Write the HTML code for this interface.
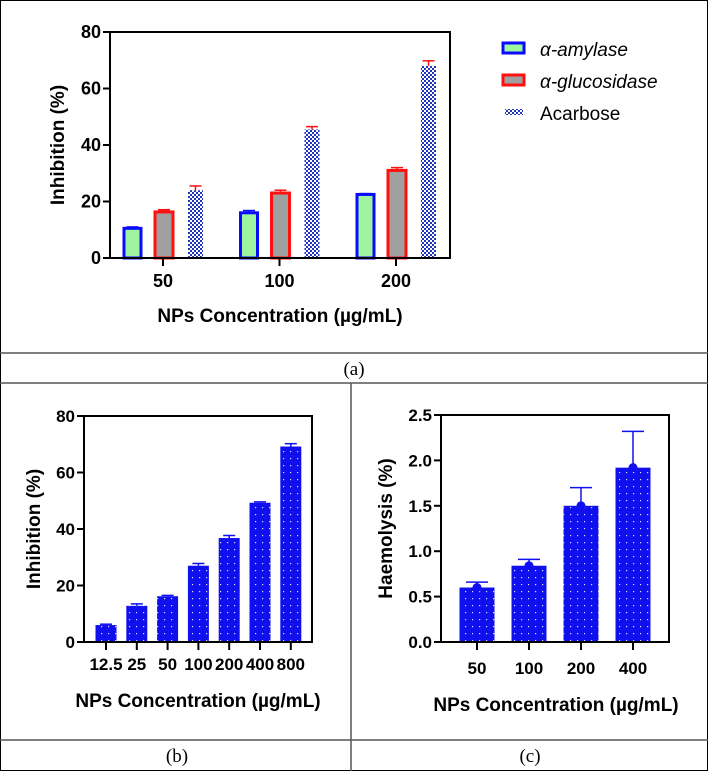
<!DOCTYPE html>
<html><head><meta charset="utf-8"><style>
html,body{margin:0;padding:0;background:#fff;}
svg{display:block;font-family:"Liberation Sans",Arial,sans-serif;}
.t{font-weight:bold;font-size:17px;fill:#000;}
.ta{font-weight:bold;font-size:18px;fill:#000;}
.ti{font-weight:bold;font-size:19px;fill:#000;}
.cap{font-family:"Liberation Serif",serif;font-size:19px;fill:#000;}
</style></head><body>
<svg id="fig" width="708" height="771" viewBox="0 0 708 771">
<defs>
<pattern id="chk" width="4" height="4" patternUnits="userSpaceOnUse"><rect width="4" height="4" fill="#fff"/><rect width="2" height="2" fill="#2233bb"/><rect x="2" y="2" width="2" height="2" fill="#2233bb"/></pattern>
<pattern id="dots" width="7" height="7" patternUnits="userSpaceOnUse"><rect width="7" height="7" fill="#1010ee"/><rect x="3" y="3" width="1.2" height="1.2" fill="#dde"/></pattern>
</defs>
<rect x="0.5" y="0.5" width="707" height="770" fill="none" stroke="#000"/>
<line x1="0" y1="353" x2="708" y2="353" stroke="#555" stroke-width="1.5"/>
<line x1="0" y1="383" x2="708" y2="383" stroke="#555" stroke-width="1.5"/>
<line x1="351" y1="383" x2="351" y2="771" stroke="#555" stroke-width="1.5"/>
<line x1="0" y1="740" x2="708" y2="740" stroke="#555" stroke-width="1.5"/>
<text class="cap" x="354" y="375" text-anchor="middle">(a)</text>
<text class="cap" x="177" y="762" text-anchor="middle">(b)</text>
<text class="cap" x="530" y="762" text-anchor="middle">(c)</text>
<g id="ga"></g><g id="gb"></g><g id="gc"></g>
</svg>
<script>
// Panel a data
const aCats = ["50","100","200"];
const amylase = [10.5, 16, 22.5];
const amylaseErr = [0.5, 0.8, 0.3];
const glucosidase = [16.3, 23, 31];
const glucosidaseErr = [0.8, 1, 1];
const acarbose = [24, 45.5, 68];
const acarboseErr = [1.5, 1, 1.8];
const aTicks = [0, 20, 40, 60, 80];
// Panel b data
const bCats = ["12.5","25","50","100","200","400","800"];
const bVals = [6, 12.8, 16.2, 27, 36.8, 49.3, 69.2];
const bErr = [0.3, 0.7, 0.3, 0.8, 0.9, 0.3, 1];
const bTicks = [0, 20, 40, 60, 80];
// Panel c data
const cCats = ["50","100","200","400"];
const cVals = [0.6, 0.84, 1.5, 1.92];
const cErr = [0.06, 0.07, 0.2, 0.4];
const cTicks = ["0.0","0.5","1.0","1.5","2.0","2.5"];

const NS = "http://www.w3.org/2000/svg";
function mk(parent, tag, attrs, text){
  const e = document.createElementNS(NS, tag);
  for (const k in attrs) e.setAttribute(k, attrs[k]);
  if (text !== undefined) e.textContent = text;
  parent.appendChild(e); return e;
}
function axes(g, x0, x1, y0, y1, ymax, ticks, tickFmt, title, titleX, cls){
  const ys = v => y0 - (v / ymax) * (y0 - y1);
  ticks.forEach(t => {
    const v = parseFloat(t);
    mk(g, "line", {x1:x0-7, x2:x0, y1:ys(v), y2:ys(v), stroke:"#000", "stroke-width":2});
    const tl = mk(g, "text", {class:cls, x:x0-9, y:ys(v)+6, "text-anchor":"end"}, tickFmt(t));
    
    
  });
  const box = mk(g, "rect", {x:x0, y:y1, width:x1-x0, height:y0-y1, fill:"none", stroke:"#000", "stroke-width":2});
  
  
  const yt = mk(g, "text", {class:"ti", transform:`translate(${titleX},${(y0+y1)/2}) rotate(-90)`, "text-anchor":"middle"}, title);
  
  
  return ys;
}
function errBar(g, cx, yTop, yErr, color, w){
  mk(g, "line", {x1:cx, x2:cx, y1:yTop, y2:yErr, stroke:color, "stroke-width":1.5});
  mk(g, "line", {x1:cx-w, x2:cx+w, y1:yErr, y2:yErr, stroke:color, "stroke-width":1.5});
}
function xLabels(g, cats, xs, y0, ly, title, tx, ty, cls){
  cats.forEach((c,i) => {
    mk(g, "line", {x1:xs(i), x2:xs(i), y1:y0, y2:y0+8, stroke:"#000", "stroke-width":2});
    const l = mk(g, "text", {class:cls, x:xs(i), y:ly, "text-anchor":"middle"}, c);
    
    
  });
  const xt = mk(g, "text", {class:"ti", x:tx, y:ty, "text-anchor":"middle"}, title);
  
  
}

// Panel a
(function(){
  const g = document.getElementById("ga");
  
  
  const x0=110, x1=450, y0=258, y1=32;
  const ys = axes(g, x0, x1, y0, y1, 80, aTicks, t=>String(t), "Inhibition (%)", 64, "ta");
  const gx = i => 163 + i*116.5;
  aCats.forEach((c,i) => {
    const cx = gx(i);
    let b = mk(g, "rect", {x:cx-39, y:ys(amylase[i]), width:17, height:y0-ys(amylase[i]), fill:"#9ef59e", stroke:"#0a0aff", "stroke-width":3});
    
    
    errBar(g, cx-30.5, ys(amylase[i]), ys(amylase[i]+amylaseErr[i]), "#0a0aff", 6);
    b = mk(g, "rect", {x:cx-8, y:ys(glucosidase[i]), width:18, height:y0-ys(glucosidase[i]), fill:"#a0a0a0", stroke:"#ff1010", "stroke-width":3});
    
    
    errBar(g, cx+1, ys(glucosidase[i]), ys(glucosidase[i]+glucosidaseErr[i]), "#ff1010", 6);
    b = mk(g, "rect", {x:cx+25, y:ys(acarbose[i]), width:15, height:y0-ys(acarbose[i]), fill:"url(#chk)"});
    
    
    errBar(g, cx+32.5, ys(acarbose[i]), ys(acarbose[i]+acarboseErr[i]), "#ff1010", 6);
  });
  mk(g, "line", {x1:x0-7, x2:x1, y1:y0, y2:y0, stroke:"#000", "stroke-width":2});
  xLabels(g, aCats, gx, y0, 287, "NPs Concentration (µg/mL)", 280, 322, "ta");
  const lg = mk(g, "g", {});
  
  
  const items = [["α-amylase","#9ef59e","#0a0aff",true],["α-glucosidase","#a0a0a0","#ff1010",true],["Acarbose","url(#chk)","none",false]];
  items.forEach((it,k) => {
    const y = 43 + k*32;
    const e = mk(lg, "g", {});
    
    
    if (it[3]) mk(e, "rect", {x:503, y:y, width:21, height:10, fill:it[1], stroke:it[2], "stroke-width":3});
    else mk(e, "rect", {x:505, y:y+2, width:18, height:6, fill:it[1]});
    mk(e, "text", {x:540, y:y+13, "font-size":"19px", "font-style":it[3]?"italic":"normal", fill:"#000"}, it[0]);
  });
})();

// Panel b
(function(){
  const g = document.getElementById("gb");
  
  
  const x0=84, x1=312, y0=642, y1=416;
  const ys = axes(g, x0, x1, y0, y1, 80, bTicks, t=>String(t), "Inhibition (%)", 40, "t");
  const xs = i => 106 + i*30.8;
  bVals.forEach((v,i) => {
    const b = mk(g, "rect", {x:xs(i)-10.5, y:ys(v), width:21, height:y0-ys(v), fill:"url(#dots)"});
    
    
    errBar(g, xs(i), ys(v), ys(v+bErr[i]), "#1010ee", 6);
  });
  mk(g, "line", {x1:x0-7, x2:x1, y1:y0, y2:y0, stroke:"#000", "stroke-width":2});
  xLabels(g, bCats, xs, y0, 670, "NPs Concentration (µg/mL)", 198, 707, "t");
})();

// Panel c
(function(){
  const g = document.getElementById("gc");
  
  
  const x0=441, x1=669, y0=642, y1=415;
  const ys = axes(g, x0, x1, y0, y1, 2.5, cTicks, t=>t, "Haemolysis (%)", 392, "t");
  const xs = i => 477 + i*52;
  cVals.forEach((v,i) => {
    const b = mk(g, "rect", {x:xs(i)-17.5, y:ys(v), width:35, height:y0-ys(v), fill:"url(#dots)"});
    
    
    errBar(g, xs(i), ys(v), ys(v+cErr[i]), "#1010ee", 11);
    const p = mk(g, "circle", {cx:xs(i), cy:ys(v), r:4.5, fill:"#1010ee"});
    
    
  });
  mk(g, "line", {x1:x0-7, x2:x1, y1:y0, y2:y0, stroke:"#000", "stroke-width":2});
  xLabels(g, cCats, xs, y0, 674, "NPs Concentration (µg/mL)", 556, 711, "t");
})();
</script>
</body></html>
